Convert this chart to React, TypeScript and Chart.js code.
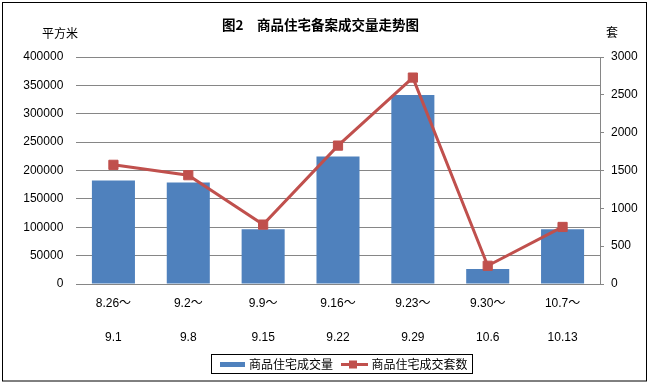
import React, { useEffect, useRef } from "react";
import { Chart, registerables } from "chart.js";

Chart.register(...registerables);

const categories: string[][] = [
  ["8.26～", "9.1"],
  ["9.2～", "9.8"],
  ["9.9～", "9.15"],
  ["9.16～", "9.22"],
  ["9.23～", "9.29"],
  ["9.30～", "10.6"],
  ["10.7～", "10.13"],
];
const areaValues: number[] = [182500, 179000, 96500, 224500, 333000, 26300, 96500];
const unitValues: number[] = [1575, 1438, 785, 1829, 2728, 241, 754];

const areaLabel = "商品住宅成交量";
const unitLabel = "商品住宅成交套数";
const titleText = "图2　商品住宅备案成交量走势图";
const leftUnit = "平方米";
const rightUnit = "套";

const BLUE = "#4F81BD";
const RED = "#C0504D";
const GRID = "#868686";
const NUM_FONT = "'Liberation Sans', 'Noto Sans CJK SC', sans-serif";
const CJK_FONT = "'Noto Sans CJK SC', 'Liberation Sans', sans-serif";

const decorPlugin = {
  id: "decor",
  afterDraw(chart: any) {
    const ctx = chart.ctx as CanvasRenderingContext2D;
    ctx.save();
    // outer border
    ctx.strokeStyle = "#000";
    ctx.lineWidth = 1;
    ctx.strokeRect(2.5, 2.5, 644, 378.5);

    // title
    ctx.fillStyle = "#000";
    ctx.textBaseline = "middle";
    ctx.textAlign = "left";
    ctx.font = `bold 13.5px ${CJK_FONT}`;
    ctx.fillText(titleText, 222, 25);

    // unit labels
    ctx.font = `12px ${CJK_FONT}`;
    ctx.fillText(leftUnit, 42, 33);
    ctx.fillText(rightUnit, 606, 32);

    // legend
    const ds = chart.data.datasets;
    ctx.strokeStyle = "#000";
    ctx.lineWidth = 1;
    ctx.strokeRect(211.5, 354.5, 261, 19);
    ctx.fillStyle = ds[0].backgroundColor;
    ctx.fillRect(220, 362, 25, 5);
    ctx.fillStyle = "#000";
    ctx.font = `12px ${CJK_FONT}`;
    ctx.fillText(ds[0].label, 249, 364);
    ctx.strokeStyle = ds[1].borderColor;
    ctx.lineWidth = 3;
    ctx.beginPath();
    ctx.moveTo(341, 364.5);
    ctx.lineTo(368, 364.5);
    ctx.stroke();
    ctx.fillStyle = ds[1].borderColor;
    ctx.fillRect(349, 360.5, 8, 8);
    ctx.fillStyle = "#000";
    ctx.fillText(ds[1].label, 371.5, 364);
    ctx.restore();
  },
};

export default function App() {
  const ref = useRef<HTMLCanvasElement | null>(null);

  useEffect(() => {
    if (!ref.current) return;
    const chart = new Chart(ref.current, {
      type: "bar",
      data: {
        labels: categories as any,
        datasets: [
          {
            type: "bar",
            label: areaLabel,
            data: areaValues,
            backgroundColor: BLUE,
            borderWidth: 0,
            yAxisID: "y",
            order: 2,
            barPercentage: 0.575,
            categoryPercentage: 1,
          } as any,
          {
            type: "line",
            label: unitLabel,
            data: unitValues,
            borderColor: RED,
            backgroundColor: RED,
            borderWidth: 3,
            pointStyle: "rect",
            pointRadius: 6.5,
            pointBorderWidth: 1,
            pointBackgroundColor: RED,
            pointBorderColor: RED,
            tension: 0,
            yAxisID: "y1",
            order: 1,
          } as any,
        ],
      },
      options: {
        responsive: false,
        devicePixelRatio: 1,
        animation: false,
        layout: { padding: { top: 57, left: 0, right: 0, bottom: 30 } },
        plugins: {
          legend: { display: false },
          title: { display: false },
          tooltip: { enabled: false },
        },
        scales: {
          x: {
            grid: { display: true, drawOnChartArea: false, drawTicks: false, color: GRID },
            border: { display: true, color: GRID, width: 1 },
            ticks: {
              color: "#000",
              padding: 3,
              maxRotation: 0,
              autoSkip: false,
              font: { family: NUM_FONT, size: 12, lineHeight: 34 / 12 },
            },
            afterFit: (s: any) => {
              s.height = 70;
            },
          },
          y: {
            position: "left",
            min: 0,
            max: 400000,
            grid: { color: GRID, drawTicks: false },
            border: { display: false },
            ticks: {
              stepSize: 50000,
              color: "#000",
              padding: 12.7,
              font: { family: NUM_FONT, size: 12 },
              callback: (v: any) => String(v),
            },
            afterFit: (s: any) => {
              s.width = 76;
            },
          },
          y1: {
            position: "right",
            min: 0,
            max: 3000,
            grid: { display: true, drawOnChartArea: false, drawTicks: true, tickLength: 4, color: GRID },
            border: { display: true, color: GRID, width: 1 },
            ticks: {
              stepSize: 500,
              color: "#000",
              padding: 7,
              font: { family: NUM_FONT, size: 12 },
              callback: (v: any) => String(v),
            },
            afterFit: (s: any) => {
              s.width = 49;
            },
          },
        },
      } as any,
      plugins: [decorPlugin],
    });
    return () => chart.destroy();
  }, []);

  return (
    <div style={{ position: "absolute", left: 0, top: 0, width: 649, height: 384, background: "#fff" }}>
      <canvas ref={ref} width={649} height={384} style={{ display: "block" }} />
    </div>
  );
}
